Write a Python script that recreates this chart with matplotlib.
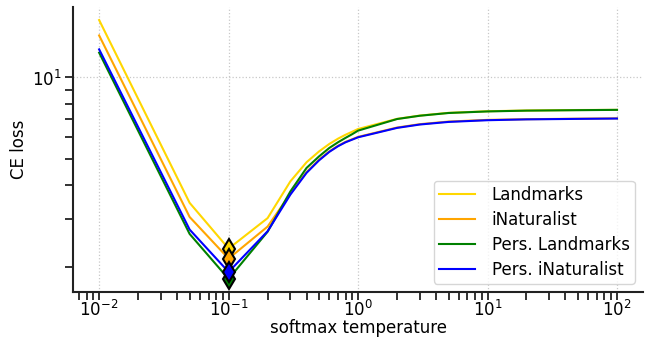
import matplotlib
matplotlib.use("Agg")
import matplotlib.pyplot as plt
import matplotlib.ticker as mticker
import numpy as np

# softmax temperatures and CE loss per dataset
temps = [0.01, 0.05, 0.1, 0.2, 0.3, 0.4, 0.5, 0.6, 0.7, 0.8, 0.9, 1, 2, 3, 5, 10, 20, 50, 100]
landmarks = [16.3, 3.44, 2.33, 3.02, 4.13, 4.86, 5.33, 5.68, 5.94, 6.14, 6.30, 6.45,
             7.03, 7.23, 7.40, 7.50, 7.55, 7.58, 7.59]
inaturalist = [14.3, 3.05, 2.14, 2.81, 3.72, 4.47, 4.97, 5.33, 5.59, 5.78, 5.91, 6.03,
               6.53, 6.72, 6.87, 6.97, 7.01, 7.04, 7.06]
pers_landmarks = [12.35, 2.64, 1.80, 2.69, 3.79, 4.63, 5.11, 5.49, 5.76, 5.98, 6.17, 6.36,
                  7.02, 7.22, 7.39, 7.49, 7.54, 7.57, 7.59]
pers_inaturalist = [12.7, 2.74, 1.91, 2.70, 3.69, 4.44, 4.94, 5.31, 5.57, 5.76, 5.89, 6.01,
                    6.51, 6.70, 6.85, 6.95, 7.00, 7.03, 7.05]

series = [
    ("Landmarks", landmarks, "gold"),
    ("iNaturalist", inaturalist, "orange"),
    ("Pers. Landmarks", pers_landmarks, "green"),
    ("Pers. iNaturalist", pers_inaturalist, "blue"),
]

fig = plt.figure(figsize=(6.54, 3.39), dpi=100)
ax = fig.add_axes([0.112, 0.139, 0.871, 0.840])

for name, vals, color in series:
    ax.plot(temps, vals, color=color, lw=1.5, label=name)
# mark the minimum of every curve
for name, vals, color in series:
    i = int(np.argmin(vals))
    ax.plot(temps[i], vals[i], marker="d", ms=10.5, color=color,
            mec="black", mew=1.5, zorder=5)

ax.set_xscale("log")
ax.set_yscale("log")
ax.yaxis.set_minor_formatter(mticker.NullFormatter())
ax.grid(True, which="major", color="#c8c8c8", linestyle=":", lw=0.9)

for s in ["top", "right"]:
    ax.spines[s].set_visible(False)
for s in ["left", "bottom"]:
    ax.spines[s].set_linewidth(1.5)
    ax.spines[s].set_color("#222222")
ax.tick_params(which="both", length=6, width=1.3, color="#222222", pad=2.5)
ax.tick_params(axis="x", which="both", pad=0)
ax.tick_params(which="major", labelsize=12)

ax.set_xlabel("softmax temperature", fontsize=12)
ax.xaxis.set_label_coords(0.5, -0.096)
ax.set_ylabel("CE loss", fontsize=12, labelpad=3)

ax.legend(loc="lower right", fontsize=12, framealpha=0.8, borderpad=0.3,
          handlelength=2.15, handletextpad=1.0, labelspacing=0.42)

fig.savefig("out.png", dpi=100)
